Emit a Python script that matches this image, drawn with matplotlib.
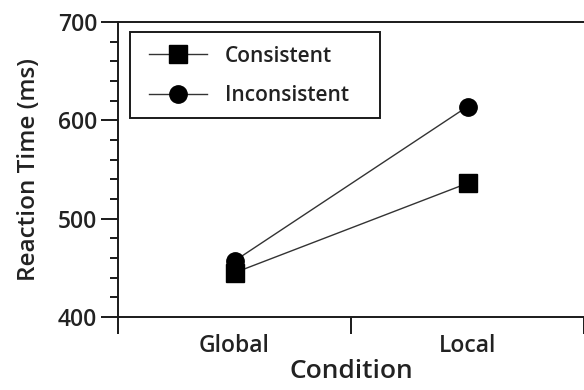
import numpy as np
import matplotlib.pyplot as plt
from matplotlib.patches import Rectangle
from matplotlib.ticker import MultipleLocator, FixedLocator

# data
conditions = ['Global', 'Local']
consistent = [445, 536]
inconsistent = [457, 614]

plt.rcParams['font.family'] = ['Open Sans', 'DejaVu Sans']
plt.rcParams['font.weight'] = 'semibold'
plt.rcParams['axes.labelweight'] = 'semibold'
ink = '#222222'

fig = plt.figure(figsize=(5.84, 3.90), dpi=100)
ax = fig.add_axes([118/584, 73/390, 1 - 118/584, (317 - 22)/390])

xpos = np.arange(len(conditions)) + 0.5
ax.plot(xpos, consistent, color='#333333', lw=1.0, marker='s', ms=12.5,
        mfc='black', mec='black', label='Consistent', zorder=3)
ax.plot(xpos, inconsistent, color='#333333', lw=1.0, marker='o', ms=12.5,
        mfc='black', mec='black', label='Inconsistent', zorder=3)

ax.set_xlim(0, 2)
ax.set_ylim(400, 700)

ax.spines['right'].set_visible(False)
for s in ['left', 'bottom', 'top']:
    ax.spines[s].set_linewidth(1.4)
    ax.spines[s].set_color('#1a1a1a')

ax.xaxis.set_major_locator(FixedLocator([0, 1, 2]))
ax.xaxis.set_minor_locator(FixedLocator(list(xpos)))
ax.set_xticklabels(['', '', ''])
ax.set_xticklabels(conditions, minor=True)
ax.tick_params(axis='x', which='major', direction='out', length=12, width=1.4, color='#1a1a1a')
ax.tick_params(axis='x', which='minor', length=0, pad=12, labelsize=16.5, labelcolor=ink)

ax.yaxis.set_major_locator(MultipleLocator(100))
ax.yaxis.set_minor_locator(MultipleLocator(20))
ax.tick_params(axis='y', which='major', direction='out', length=12, width=1.4,
               color='#1a1a1a', labelsize=16.5, labelcolor=ink, pad=3)
ax.tick_params(axis='y', which='minor', direction='out', length=6, width=1.4, color='#1a1a1a')

ax.set_ylabel('Reaction Time (ms)', fontsize=17.5, color=ink, labelpad=12)
ax.set_xlabel('Condition', fontsize=19, color=ink, va='baseline')
ax.xaxis.set_label_coords(0.5, -61/295)

# legend box drawn by hand, entries placed inside it
box = Rectangle((12/466, 199/295), 250/466, 86/295, transform=ax.transAxes,
                fill=False, edgecolor='#1a1a1a', lw=1.4, clip_on=False, zorder=4)
ax.add_patch(box)
leg = ax.legend(loc='upper left', bbox_to_anchor=(31/466, 0.92), fontsize=15,
                frameon=False, handlelength=2.8, borderpad=0, labelspacing=0.9,
                handletextpad=0.85, borderaxespad=0)
for t in leg.get_texts():
    t.set_color(ink)

fig.savefig('out.png', dpi=100)
